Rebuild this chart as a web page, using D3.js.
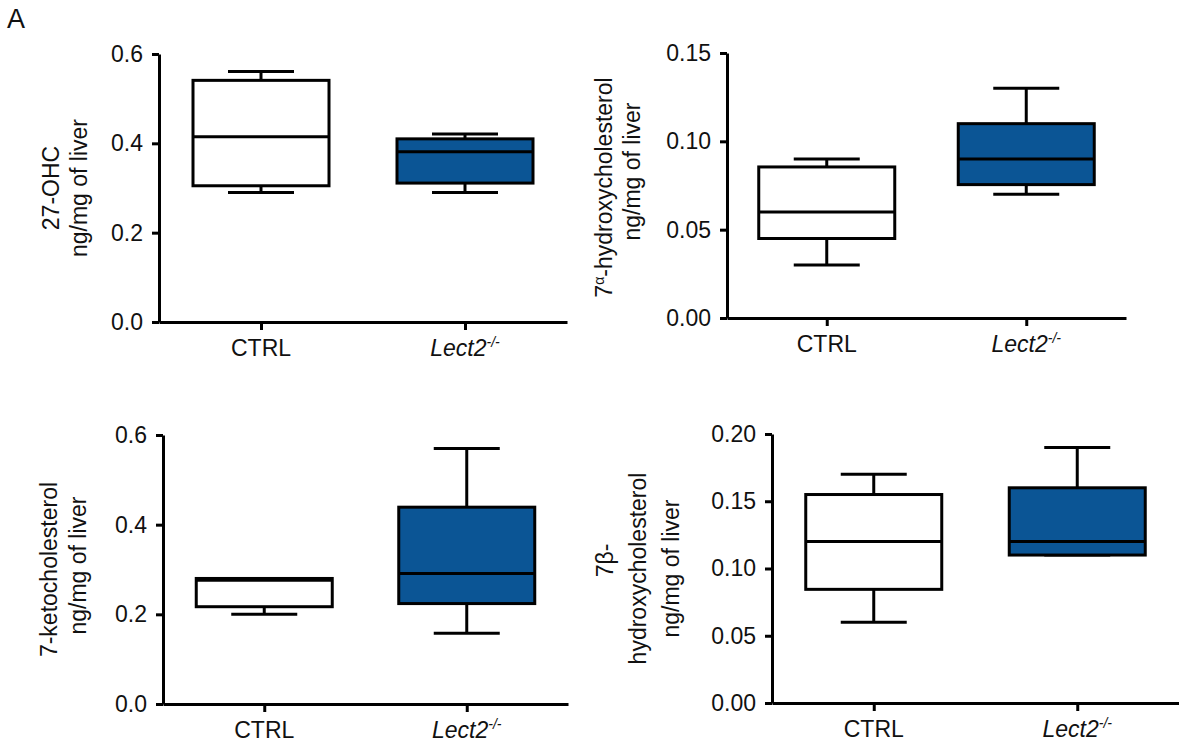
<!DOCTYPE html>
<html>
<head>
<meta charset="utf-8">
<script src="https://cdn.jsdelivr.net/npm/d3@7"></script>
<style>
  html, body { margin: 0; padding: 0; background: #fff; }
  svg { display: block; font-family: Arial, "Liberation Sans", sans-serif; }
</style>
</head>
<body>
<svg id="chart" width="1179" height="745"></svg>
<script>
// groups on the x axis
const categories = ['CTRL', 'Lect2'];

// box stats per group: [min, q1, median, q3, max]
const ohc27Ctrl  = [0.290, 0.305, 0.415, 0.541, 0.561];
const ohc27Lect2 = [0.290, 0.311, 0.381, 0.410, 0.421];

const alphaCtrl  = [0.030, 0.045, 0.060, 0.0855, 0.090];
const alphaLect2 = [0.070, 0.0755, 0.090, 0.110, 0.130];

const ketoCtrl  = [0.200, 0.217, 0.276, 0.280, 0.280];
const ketoLect2 = [0.158, 0.224, 0.291, 0.439, 0.570];

const betaCtrl  = [0.060, 0.0845, 0.120, 0.155, 0.170];
const betaLect2 = [0.110, 0.110, 0.120, 0.160, 0.190];

// y axis ticks
const ohc27Ticks = [0, 0.2, 0.4, 0.6];
const alphaTicks = [0, 0.05, 0.10, 0.15];
const ketoTicks  = [0, 0.2, 0.4, 0.6];
const betaTicks  = [0, 0.05, 0.10, 0.15, 0.20];

const BLUE = '#0b5595';
const FS = 23;
const svg = d3.select('#chart');

// panel layout (pixels) + which data goes where
const panels = [
  { left: 159, right: 567, top: 54,  bottom: 322, ticks: ohc27Ticks, fmt: '.1f',
    data: [ohc27Ctrl, ohc27Lect2], title: ['27-OHC', 'ng/mg of liver'], titleX: -72, lh: 28, shift: [0, 0] },
  { left: 727, right: 1126, top: 53, bottom: 318, ticks: alphaTicks, fmt: '.2f',
    data: [alphaCtrl, alphaLect2], title: ['7α-hydroxycholesterol', 'ng/mg  of liver'], titleX: -87, lh: 28, shift: [2, -14] },
  { left: 163, right: 568, top: 435, bottom: 704, ticks: ketoTicks, fmt: '.1f',
    data: [ketoCtrl, ketoLect2], title: ['7-ketocholesterol', 'ng/mg of liver'], titleX: -77, lh: 29, shift: [0, -4] },
  { left: 772, right: 1179, top: 434, bottom: 703, ticks: betaTicks, fmt: '.2f',
    data: [betaCtrl, betaLect2], title: ['7β-', 'hydroxycholesterol', 'ng/mg of liver'], titleX: -93, lh: 33, shift: [-8, 0, 0] }
];

svg.append('text')
  .attr('x', 7).attr('y', 28)
  .attr('font-size', 27).attr('fill', '#111')
  .text('A');

panels.forEach(p => {
  const g = svg.append('g');
  const y = d3.scaleLinear()
    .domain([0, d3.max(p.ticks)])
    .range([p.bottom, p.top]);
  const x = d3.scalePoint()
    .domain(categories)
    .range([p.left, p.right])
    .padding(0.5);

  const boxW = 136, capW = 66;

  // y axis
  const ya = g.append('g')
    .attr('transform', `translate(${p.left},0)`)
    .call(d3.axisLeft(y).tickValues(p.ticks).tickFormat(d3.format(p.fmt))
      .tickSize(7).tickSizeOuter(0).tickPadding(9));
  ya.select('.domain').attr('stroke-width', 3);
  ya.selectAll('.tick line').attr('stroke-width', 3);
  ya.selectAll('.tick text').attr('font-size', FS).attr('font-family', null).attr('fill', '#111');

  // x axis
  const xa = g.append('g')
    .attr('transform', `translate(0,${p.bottom})`)
    .call(d3.axisBottom(x).tickFormat('').tickSize(8).tickSizeOuter(0));
  xa.select('.domain').attr('stroke-width', 3);
  xa.selectAll('.tick line').attr('stroke-width', 3);

  // x labels
  categories.forEach(c => {
    const t = g.append('text')
      .attr('x', x(c)).attr('y', p.bottom + 34)
      .attr('text-anchor', 'middle')
      .attr('font-size', FS).attr('fill', '#111');
    if (c === 'Lect2') {
      t.append('tspan').attr('font-style', 'italic').text('Lect2');
      t.append('tspan').attr('font-style', 'italic').attr('font-size', 14).attr('dy', -9).text('-/-');
    } else {
      t.text(c);
    }
  });

  // boxes
  p.data.forEach((s, i) => {
    const cx = x(categories[i]);
    const [mn, q1, md, q3, mx] = s;
    const b = g.append('g').attr('stroke', '#000').attr('stroke-width', 3);
    b.append('line').attr('x1', cx).attr('x2', cx).attr('y1', y(q3)).attr('y2', y(mx));
    b.append('line').attr('x1', cx).attr('x2', cx).attr('y1', y(q1)).attr('y2', y(mn));
    b.append('line').attr('x1', cx - capW / 2).attr('x2', cx + capW / 2).attr('y1', y(mx)).attr('y2', y(mx));
    b.append('line').attr('x1', cx - capW / 2).attr('x2', cx + capW / 2).attr('y1', y(mn)).attr('y2', y(mn));
    b.append('rect')
      .attr('x', cx - boxW / 2).attr('width', boxW)
      .attr('y', y(q3)).attr('height', y(q1) - y(q3))
      .attr('fill', i === 0 ? '#fff' : BLUE);
    b.append('line').attr('x1', cx - boxW / 2).attr('x2', cx + boxW / 2).attr('y1', y(md)).attr('y2', y(md));
  });

  // y title (rotated, multi-line)
  const cy = (p.top + p.bottom) / 2;
  const tg = g.append('g')
    .attr('transform', `translate(${p.left + p.titleX},${cy}) rotate(-90)`);
  const n = p.title.length;
  p.title.forEach((line, i) => {
    const t = tg.append('text')
      .attr('x', -p.shift[i])
      .attr('y', -(n - 1 - i) * p.lh)
      .attr('text-anchor', 'middle')
      .attr('font-size', FS).attr('fill', '#111');
    if (line.startsWith('7α')) {
      t.append('tspan').text('7');
      t.append('tspan').attr('font-size', 14).attr('dy', -8).text('α');
      t.append('tspan').attr('dy', 8).text('-hydroxycholesterol');
    } else {
      t.text(line);
    }
  });
});
</script>
</body>
</html>
